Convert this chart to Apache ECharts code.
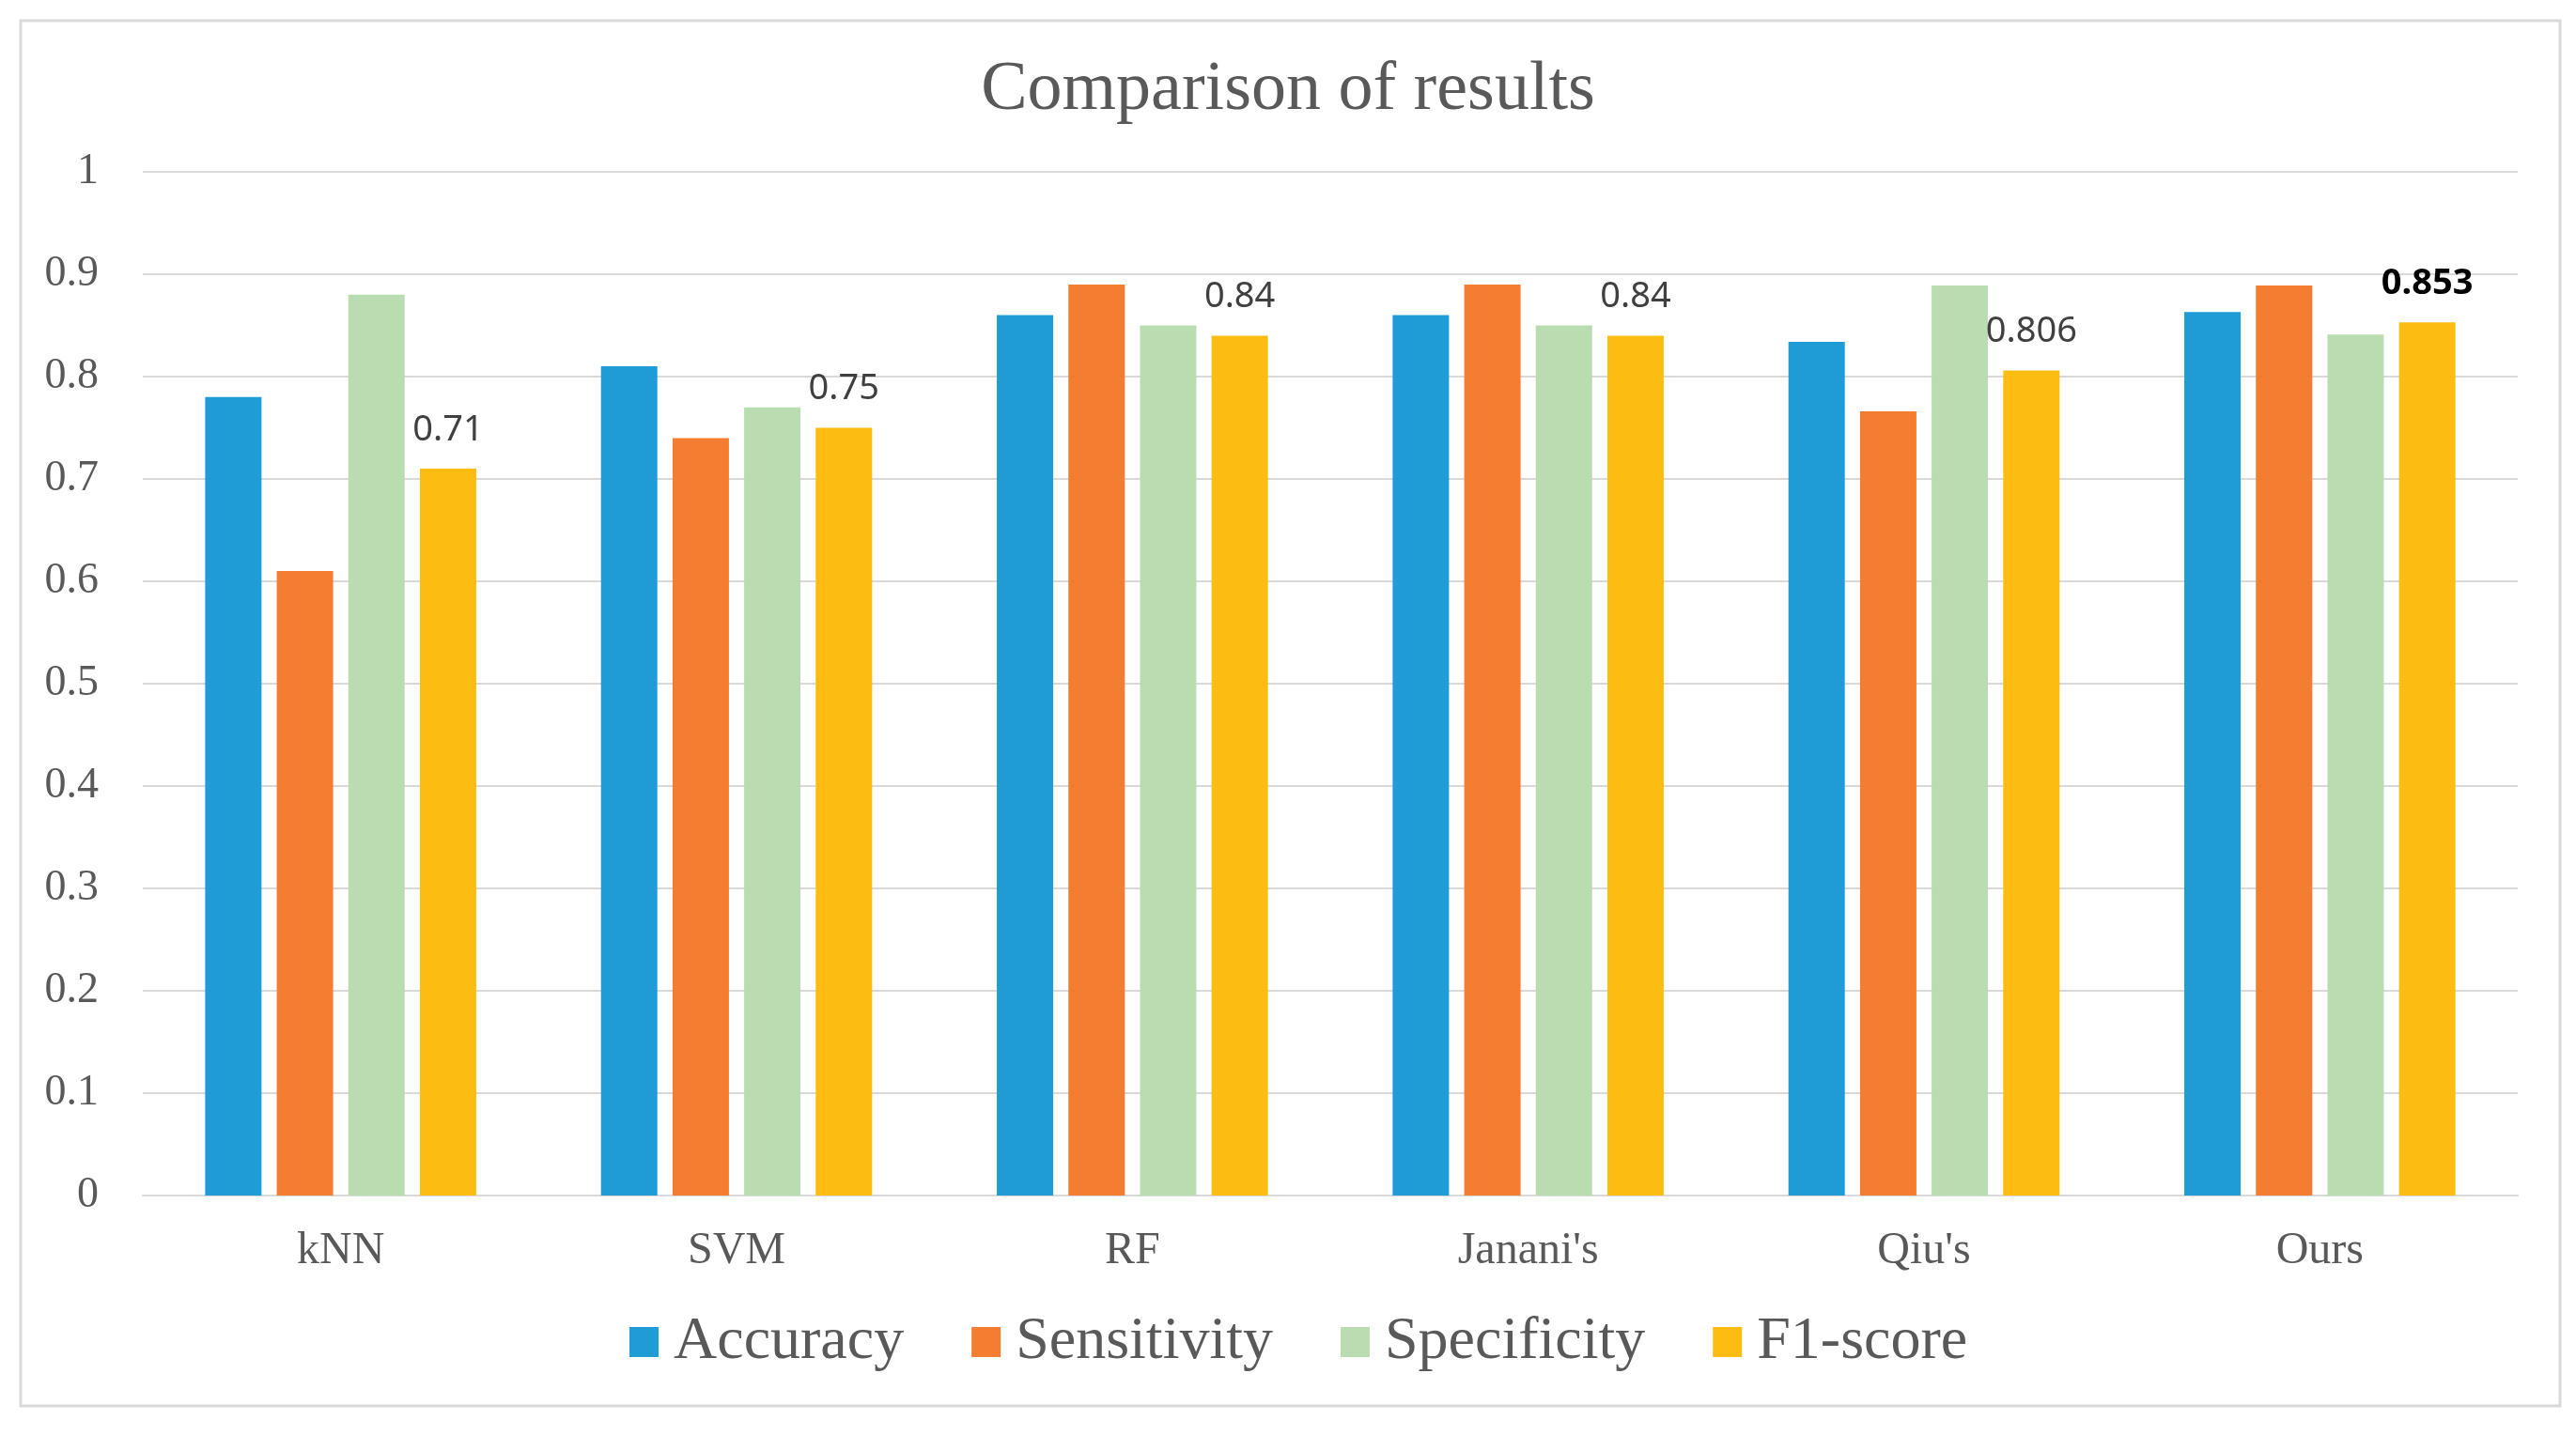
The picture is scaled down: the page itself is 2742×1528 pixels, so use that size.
<!DOCTYPE html>
<html>
<head>
<meta charset="utf-8">
<script src="https://cdn.jsdelivr.net/npm/echarts@6/dist/echarts.min.js"></script>
<style>
  html, body { margin: 0; padding: 0; background: #ffffff; }
  #chart { width: 2742px; height: 1528px; }
</style>
</head>
<body>
<div id="chart"></div>
<script>
// values
var categories = ['kNN', 'SVM', 'RF', "Janani's", "Qiu's", 'Ours']
var seriesNames = ['Accuracy', 'Sensitivity', 'Specificity', 'F1-score']
var accuracy = [0.78, 0.81, 0.86, 0.86, 0.834, 0.863]
var sensitivity = [0.61, 0.74, 0.89, 0.89, 0.766, 0.889]
var specificity = [0.88, 0.77, 0.85, 0.85, 0.889, 0.841]
var f1score = [0.71, 0.75, 0.84, 0.84, 0.806, 0.853]
var yTicks = [0, 0.1, 0.2, 0.3, 0.4, 0.5, 0.6, 0.7, 0.8, 0.9, 1]

var colors = ['#1f9bd6', '#f47d31', '#b9ddb0', '#fdbc12']
var serif = '"Liberation Serif", "Times New Roman", serif'
var textGray = '#595959'
var lineGray = '#d9d9d9'

var myChart = echarts.init(document.getElementById('chart'))

// last F1 value (ours) is shown bold and black
var f1Data = f1score.map(function (v, i) {
    if (i === f1score.length - 1) {
        return { value: v, label: { color: '#000000', fontWeight: 'bold' } }
    }
    return v
})

var barBase = {
    type: 'bar',
    barWidth: 60,
    barGap: '27%',
    animation: false
}

var option = {
    backgroundColor: '#ffffff',
    color: colors,
    title: {
        text: 'Comparison of results',
        left: 'center',
        top: 60,
        padding: 0,
        textStyle: {
            fontFamily: serif,
            fontSize: 74,
            fontWeight: 'normal',
            color: textGray
        }
    },
    legend: {
        data: seriesNames,
        left: 670,
        top: 1397,
        padding: 0,
        itemWidth: 31,
        itemHeight: 32,
        itemGap: 72,
        icon: 'rect',
        textStyle: {
            fontFamily: serif,
            fontSize: 64,
            color: textGray,
            padding: [0, 0, 0, 11]
        }
    },
    grid: {
        left: 152,
        right: 62,
        top: 183,
        bottom: 255
    },
    xAxis: {
        type: 'category',
        data: categories,
        axisLine: { lineStyle: { color: lineGray, width: 2 } },
        axisTick: { show: false },
        axisLabel: {
            fontFamily: serif,
            fontSize: 48,
            color: textGray,
            margin: 35
        }
    },
    yAxis: {
        type: 'value',
        min: yTicks[0],
        max: yTicks[yTicks.length - 1],
        interval: 0.1,
        axisLine: { show: false },
        axisTick: { show: false },
        splitLine: { lineStyle: { color: lineGray, width: 2 } },
        axisLabel: {
            fontFamily: serif,
            fontSize: 46,
            color: textGray,
            margin: 47
        }
    },
    graphic: [{
        type: 'rect',
        shape: { x: 22, y: 22, width: 2703, height: 1475 },
        style: { fill: 'none', stroke: lineGray, lineWidth: 3 },
        silent: true
    }],
    series: [
        Object.assign({}, barBase, { name: seriesNames[0], data: accuracy }),
        Object.assign({}, barBase, { name: seriesNames[1], data: sensitivity }),
        Object.assign({}, barBase, { name: seriesNames[2], data: specificity }),
        Object.assign({}, barBase, {
            name: seriesNames[3],
            data: f1Data,
            label: {
                show: true,
                position: 'top',
                distance: 22,
                fontFamily: '"Noto Sans", "Open Sans", sans-serif',
                fontSize: 38,
                color: '#404040'
            }
        })
    ]
}

myChart.setOption(option)
</script>
</body>
</html>
